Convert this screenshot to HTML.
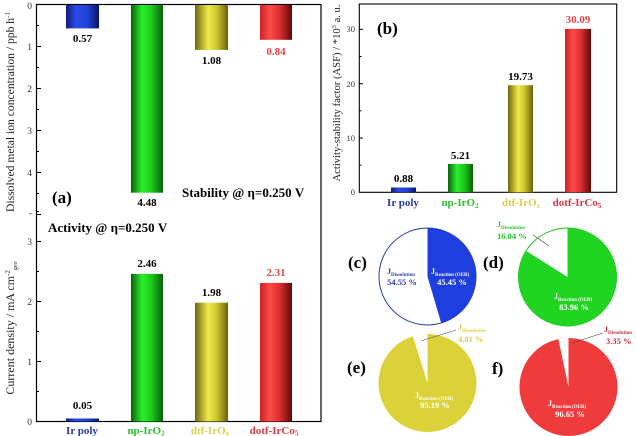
<!DOCTYPE html>
<html><head><meta charset="utf-8"><style>
html,body{margin:0;padding:0;background:#fff;}
svg{display:block;}
text{font-family:"Liberation Serif",serif;}
</style></head><body>
<svg width="636" height="436" viewBox="0 0 636 436" xmlns="http://www.w3.org/2000/svg">
<defs>
<linearGradient id="gB" x1="0" x2="1" y1="0" y2="0"><stop offset="0" stop-color="#101a80"/><stop offset="0.3" stop-color="#2a4ae8"/><stop offset="0.65" stop-color="#2242d4"/><stop offset="1" stop-color="#0c1468"/></linearGradient>
<linearGradient id="gG" x1="0" x2="1" y1="0" y2="0"><stop offset="0" stop-color="#0a600a"/><stop offset="0.35" stop-color="#2af02a"/><stop offset="0.65" stop-color="#1cc81c"/><stop offset="1" stop-color="#086008"/></linearGradient>
<linearGradient id="gY" x1="0" x2="1" y1="0" y2="0"><stop offset="0" stop-color="#6e6810"/><stop offset="0.4" stop-color="#f0ea48"/><stop offset="0.65" stop-color="#d0c830"/><stop offset="1" stop-color="#6a600a"/></linearGradient>
<linearGradient id="gR" x1="0" x2="1" y1="0" y2="0"><stop offset="0" stop-color="#c82424"/><stop offset="0.3" stop-color="#ff4a4a"/><stop offset="0.6" stop-color="#e03030"/><stop offset="1" stop-color="#600808"/></linearGradient>
</defs>

<!-- Panel (a) frame -->
<rect x="36.5" y="4.5" width="284.5" height="417" fill="none" stroke="#000" stroke-width="1.2"/>
<g stroke="#000" stroke-width="1">
<line x1="36.5" y1="46.5" x2="41" y2="46.5"/><line x1="36.5" y1="88.5" x2="41" y2="88.5"/><line x1="36.5" y1="130.5" x2="41" y2="130.5"/><line x1="36.5" y1="172.5" x2="41" y2="172.5"/><line x1="36.5" y1="214.5" x2="41" y2="214.5"/>
<line x1="36.5" y1="25.5" x2="39" y2="25.5"/><line x1="36.5" y1="67.5" x2="39" y2="67.5"/><line x1="36.5" y1="109.5" x2="39" y2="109.5"/><line x1="36.5" y1="151.5" x2="39" y2="151.5"/><line x1="36.5" y1="193.5" x2="39" y2="193.5"/>
<line x1="36.5" y1="241.5" x2="41" y2="241.5"/><line x1="36.5" y1="301.5" x2="41" y2="301.5"/><line x1="36.5" y1="361.5" x2="41" y2="361.5"/>
<line x1="36.5" y1="211.5" x2="39" y2="211.5"/><line x1="36.5" y1="271.5" x2="39" y2="271.5"/><line x1="36.5" y1="331.5" x2="39" y2="331.5"/><line x1="36.5" y1="391.5" x2="39" y2="391.5"/>
</g>
<g font-size="9.5" fill="#333" text-anchor="end">
<text x="32" y="9">0</text><text x="32" y="50">1</text><text x="32" y="92">2</text><text x="32" y="134">3</text><text x="32" y="176">4</text><text x="32" y="216">-</text>
<text x="32" y="245">3</text><text x="32" y="305">2</text><text x="32" y="365">1</text><text x="32" y="425">0</text>
</g>
<text transform="translate(14,112) rotate(-90)" font-size="11.5" text-anchor="middle" fill="#222" textLength="200" lengthAdjust="spacingAndGlyphs">Dissolved metal ion concentration / ppb h<tspan font-size="7" dy="-4">-1</tspan></text>
<text transform="translate(14,328) rotate(-90)" font-size="12" text-anchor="middle" fill="#222">Current density / mA cm<tspan font-size="7" dy="-4">-2</tspan><tspan font-size="6" dy="7">geo</tspan></text>

<!-- stability bars -->
<rect x="66" y="5" width="33" height="23.4" fill="url(#gB)"/>
<rect x="131" y="5" width="32" height="187.7" fill="url(#gG)"/>
<rect x="195" y="5" width="33" height="44.9" fill="url(#gY)"/>
<rect x="260" y="5" width="32" height="34.8" fill="url(#gR)"/>
<g font-size="11" text-anchor="middle" font-weight="bold">
<text x="82.5" y="42">0.57</text>
<text x="147" y="206">4.48</text>
<text x="211.5" y="64">1.08</text>
<text x="276" y="55" fill="#e04848">0.84</text>
</g>
<text x="52" y="203" font-size="17" font-weight="bold">(a)</text>
<text x="182" y="197" font-size="13" font-weight="bold">Stability @ η=0.250 V</text>
<text x="48" y="232" font-size="13" font-weight="bold">Activity @ η=0.250 V</text>

<!-- activity bars -->
<rect x="66" y="418.5" width="33" height="3" fill="url(#gB)"/>
<rect x="131" y="273.9" width="32" height="147.6" fill="url(#gG)"/>
<rect x="195" y="302.7" width="33" height="118.8" fill="url(#gY)"/>
<rect x="260" y="282.9" width="32" height="138.6" fill="url(#gR)"/>
<g font-size="11" text-anchor="middle" font-weight="bold">
<text x="82.5" y="409">0.05</text>
<text x="147" y="267">2.46</text>
<text x="211.5" y="296">1.98</text>
<text x="276" y="276" fill="#e04848">2.31</text>
</g>
<g font-size="11" text-anchor="middle" font-weight="bold">
<text x="82" y="434" fill="#2a3aa8">Ir poly</text>
<text x="146" y="434" fill="#2ec02e">np-IrO<tspan font-size="7" dy="1.5">2</tspan></text>
<text x="210" y="434" fill="#d8d050">dtf-IrO<tspan font-size="7" dy="1.5">x</tspan></text>
<text x="274" y="434" fill="#d83a4a">dotf-IrCo<tspan font-size="7" dy="1.5">5</tspan></text>
</g>

<!-- Panel (b) -->
<rect x="359.3" y="4" width="257.4" height="188.3" fill="none" stroke="#000" stroke-width="1.1"/>
<g stroke="#000" stroke-width="1">
<line x1="359.3" y1="138" x2="363" y2="138"/><line x1="359.3" y1="83.7" x2="363" y2="83.7"/><line x1="359.3" y1="29.3" x2="363" y2="29.3"/>
<line x1="359.3" y1="165.1" x2="361.5" y2="165.1"/><line x1="359.3" y1="110.8" x2="361.5" y2="110.8"/><line x1="359.3" y1="56.5" x2="361.5" y2="56.5"/>
</g>
<g font-size="8.5" fill="#333" text-anchor="end">
<text x="355" y="195">0</text><text x="355" y="141">10</text><text x="355" y="87">20</text><text x="355" y="32">30</text>
</g>
<text transform="translate(340,93) rotate(-90)" font-size="10" text-anchor="middle" fill="#222" textLength="177" lengthAdjust="spacingAndGlyphs">Activity-stability factor (ASF) / *10<tspan font-size="6" dy="-4">3</tspan><tspan dy="4"> a. u.</tspan></text>
<rect x="391" y="187.5" width="25" height="4.8" fill="url(#gB)"/>
<rect x="448" y="164" width="25" height="28.3" fill="url(#gG)"/>
<rect x="508" y="85.2" width="25" height="107.1" fill="url(#gY)"/>
<rect x="565" y="28.9" width="26" height="163.4" fill="url(#gR)"/>
<g font-size="11" text-anchor="middle" font-weight="bold">
<text x="403.5" y="182">0.88</text>
<text x="460.5" y="159">5.21</text>
<text x="520.5" y="80">19.73</text>
<text x="578" y="23" fill="#e04848">30.09</text>
</g>
<text x="377" y="34" font-size="17" font-weight="bold">(b)</text>
<g font-size="11" text-anchor="middle" font-weight="bold">
<text x="403" y="206" fill="#2a3aa8">Ir poly</text>
<text x="460" y="206" fill="#2ec02e">np-IrO<tspan font-size="7" dy="2">2</tspan></text>
<text x="521" y="206" fill="#d8d050">dtf-IrO<tspan font-size="7" dy="2">x</tspan></text>
<text x="577" y="206" fill="#d83a4a">dotf-IrCo<tspan font-size="7" dy="2">5</tspan></text>
</g>

<!-- Pie (c) -->
<circle cx="427.5" cy="276.5" r="48.5" fill="#fff" stroke="#2a3aa8" stroke-width="1"/>
<path d="M427.5,276.5 L427.5,228 A48.5,48.5 0 0 1 441.2,323 Z" fill="#1e3ee0"/>
<text x="348" y="268" font-size="17" font-weight="bold">(c)</text>
<text x="387" y="274" font-size="8" font-weight="bold" fill="#2a3aa8">J<tspan font-size="5" dy="2">Dissolution</tspan></text>
<text x="402" y="285" font-size="8.5" font-weight="bold" fill="#2a3aa8" text-anchor="middle">54.55 %</text>
<text x="431" y="274" font-size="8" font-weight="bold" fill="#fff">J<tspan font-size="5" dy="2">Reaction (OER)</tspan></text>
<text x="452" y="285" font-size="8.5" font-weight="bold" fill="#fff" text-anchor="middle">45.45 %</text>

<!-- Pie (d) -->
<circle cx="567.5" cy="277" r="49" fill="#fff" stroke="#22c022" stroke-width="1"/>
<path d="M567.5,277 L567.5,228 A49,49 0 1 1 526.07,250.84 Z" fill="#22d422"/>
<text x="483" y="268" font-size="17" font-weight="bold">(d)</text>
<text x="497" y="227" font-size="8" font-weight="bold" fill="#2ec02e">J<tspan font-size="5" dy="2">Dissolution</tspan></text>
<text x="497" y="239" font-size="8.5" font-weight="bold" fill="#2ec02e">16.04 %</text>
<line x1="533" y1="235" x2="549" y2="246" stroke="#444" stroke-width="0.6"/>
<text x="554" y="299" font-size="8" font-weight="bold" fill="#fff">J<tspan font-size="5" dy="2">Reaction (OER)</tspan></text>
<text x="574" y="310" font-size="8.5" font-weight="bold" fill="#fff" text-anchor="middle">83.96 %</text>

<!-- Pie (e) -->
<circle cx="427.5" cy="383" r="49" fill="#dbd23a"/>
<path d="M427.5,383 L427.5,334 A49,49 0 0 0 412.9,336.2 Z" fill="#fff"/>
<text x="347" y="373" font-size="17" font-weight="bold">(e)</text>
<text x="458" y="330" font-size="8" font-weight="bold" fill="#d8d050">J<tspan font-size="5" dy="2">Dissolution</tspan></text>
<text x="458" y="342" font-size="8.5" font-weight="bold" fill="#d8d050">4.81 %</text>
<line x1="421" y1="341" x2="456" y2="330" stroke="#555" stroke-width="0.6"/>
<text x="415" y="398" font-size="8" font-weight="bold" fill="#fff">J<tspan font-size="5" dy="2">Reaction (OER)</tspan></text>
<text x="435" y="408" font-size="8.5" font-weight="bold" fill="#fff" text-anchor="middle">95.19 %</text>

<!-- Pie (f) -->
<circle cx="568.5" cy="387" r="49" fill="#ef3b3b"/>
<path d="M568.5,387 L568.5,338 A49,49 0 0 0 558.3,339.1 Z" fill="#fff"/>
<text x="492" y="374" font-size="17" font-weight="bold">f)</text>
<text x="604" y="332" font-size="8" font-weight="bold" fill="#c83040">J<tspan font-size="5" dy="2">Dissolution</tspan></text>
<text x="606" y="344" font-size="8.5" font-weight="bold" fill="#c83040">3.35 %</text>
<line x1="572" y1="343" x2="603" y2="333" stroke="#444" stroke-width="0.6"/>
<text x="548" y="406" font-size="8" font-weight="bold" fill="#fff">J<tspan font-size="5" dy="2">Reaction (OER)</tspan></text>
<text x="570" y="417" font-size="8.5" font-weight="bold" fill="#fff" text-anchor="middle">96.65 %</text>
</svg>
</body></html>
